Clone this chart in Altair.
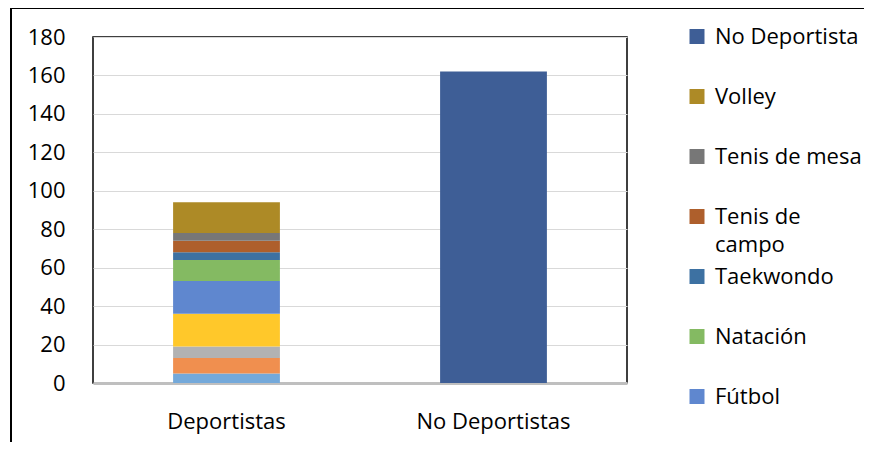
import altair as alt
import pandas as pd

# ---- data ----
grupos = ["Deportistas"] * 10 + ["No Deportistas"]
series = ["Ajedrez", "Atletismo", "Baloncesto", "Ciclismo", "Fútbol", "Natación",
          "Taekwondo", "Tenis de campo", "Tenis de mesa", "Volley", "No Deportista"]
valores = [5, 8, 6, 17, 17, 11, 4, 6, 4, 16, 162]
colores = ["#74a9da", "#f08f4f", "#b2b2b2", "#ffc82a", "#5f87cf", "#84ba62",
           "#3d71a2", "#ae5f2c", "#777777", "#ad8a26", "#3e5e96"]
leyenda = ["No Deportista", "Volley", "Tenis de mesa", "Tenis de campo",
           "Taekwondo", "Natación", "Fútbol"]
categorias = ["Deportistas", "No Deportistas"]
y_ticks = list(range(0, 181, 20))

df = pd.DataFrame({"grupo": grupos, "serie": series, "valor": valores,
                   "orden": list(range(len(series)))})

FONT = "Open Sans"
# square symbol shifted down so that it sits beside the first text line
SQUARE_LOW = "M-1,0.27H1V2.27H-1Z"

bars = alt.Chart(df).mark_bar().encode(
    x=alt.X("grupo:N", sort=categorias, title=None,
            scale=alt.Scale(paddingInner=0.6, paddingOuter=0.3),
            axis=alt.Axis(labelAngle=0, labelFontSize=22, labelFont=FONT,
                          labelColor="#000000", labelPadding=28, ticks=False,
                          domainColor="#bfbfbf", domainWidth=3)),
    y=alt.Y("valor:Q", stack="zero", title=None,
            scale=alt.Scale(domain=[0, 180], nice=False),
            axis=alt.Axis(values=y_ticks, labelFontSize=22, labelFont=FONT,
                          labelColor="#000000", labelPadding=28, ticks=False,
                          domain=False, gridColor="#d9d9d9", gridWidth=1)),
    color=alt.Color("serie:N",
                    scale=alt.Scale(domain=series, range=colores),
                    legend=alt.Legend(title=None, values=leyenda, orient="none",
                                      legendX=593, legendY=-21, padding=0,
                                      symbolType=SQUARE_LOW, symbolSize=225,
                                      symbolStrokeWidth=0, labelFontSize=22,
                                      labelFont=FONT, labelColor="#000000",
                                      labelOffset=7, rowPadding=0,
                                      labelLimit=300, gridAlign="all",
                                      labelBaseline="top",
                                      labelExpr="datum.label == 'Tenis de campo' ? ['Tenis de', 'campo'] : datum.label")),
    order=alt.Order("orden:Q", sort="ascending"),
)

marco = alt.Data(values=[{"k": 1}])
top_rule = alt.Chart(marco).mark_rule(color="#000000", strokeWidth=2).encode(
    x=alt.value(-82), x2=alt.value(900), y=alt.value(-29))
left_rule = alt.Chart(marco).mark_rule(color="#000000", strokeWidth=2).encode(
    x=alt.value(-82), y=alt.value(-29), y2=alt.value(600))

chart = alt.layer(bars, top_rule, left_rule).properties(
    width=534, height=346,
    autosize=alt.AutoSizeParams(type="none"),
    padding={"left": 85, "top": 29, "right": 237, "bottom": 59},
).configure(
    style={"guide-label": {"lineHeight": 28}}
).configure_view(stroke="#000000", strokeWidth=1.5)

chart.save("out.html", embed_options={"renderer": "svg", "actions": False})
